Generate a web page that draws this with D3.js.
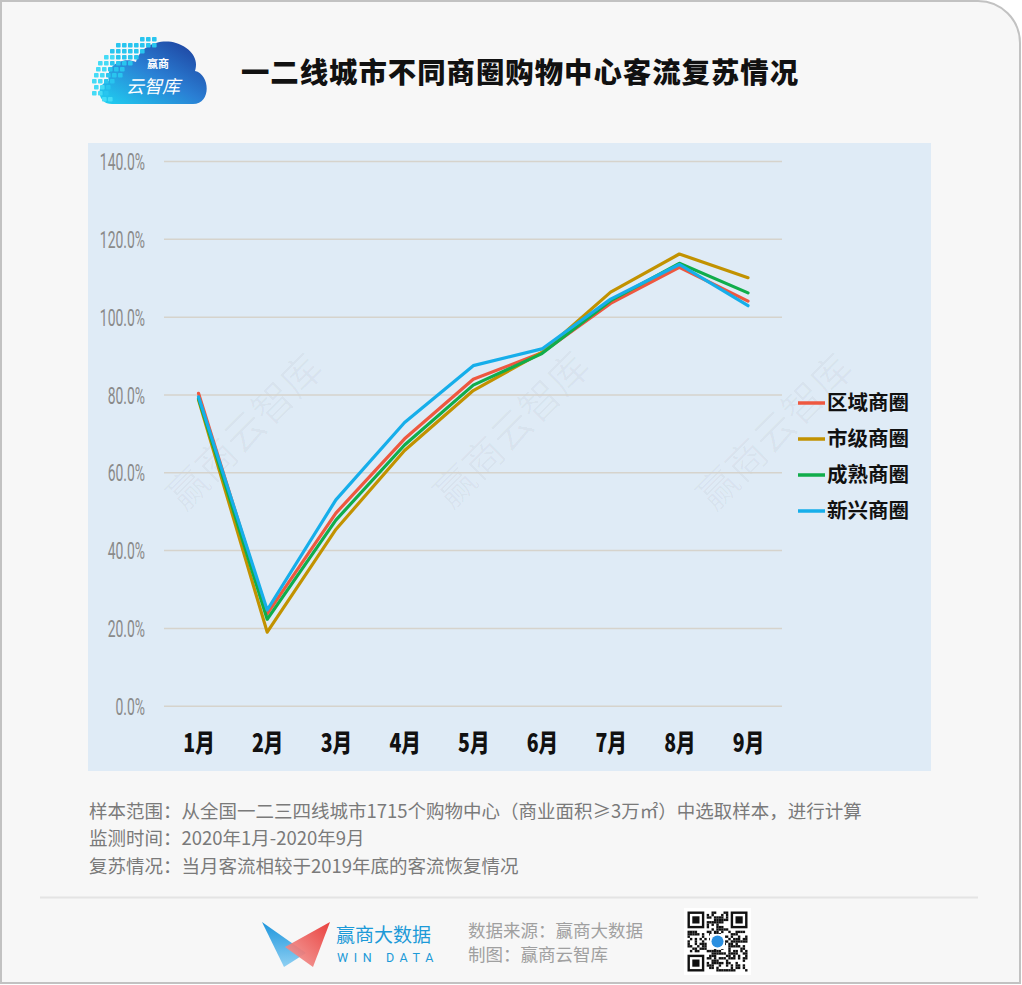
<!DOCTYPE html>
<html><head><meta charset="utf-8">
<script src="https://cdn.jsdelivr.net/npm/d3@7"></script>
<style>html,body{margin:0;padding:0;background:#fff;} svg{display:block}</style>
</head><body><svg id="c" width="1022" height="985"></svg>
<script>
// ---------- data ----------
const months = ["1月","2月","3月","4月","5月","6月","7月","8月","9月"];
const seriesNames = ["区域商圈","市级商圈","成熟商圈","新兴商圈"];
const seriesColors = ["#ee5840","#c29200","#10ad4b","#16aeea"];
const quyu     = [80.3, 23.6, 49.5, 68.6, 83.9, 90.7, 103.4, 112.7, 104.0];
const shiji    = [78.6, 18.9, 45.3, 65.6, 81.0, 90.8, 106.3, 116.1, 110.0];
const chengshu = [79.0, 22.2, 47.7, 67.0, 82.4, 90.5, 104.1, 113.7, 106.1];
const xinxing  = [79.4, 24.6, 52.9, 72.8, 87.4, 91.7, 104.5, 113.4, 102.8];
const yTicks = [0, 20, 40, 60, 80, 100, 120, 140];
const title = "一二线城市不同商圈购物中心客流复苏情况";
const notes = [
  "样本范围：从全国一二三四线城市1715个购物中心（商业面积≥3万㎡）中选取样本，进行计算",
  "监测时间：2020年1月-2020年9月",
  "复苏情况：当月客流相较于2019年底的客流恢复情况"
];
const sourceLines = ["数据来源：赢商大数据", "制图：赢商云智库"];

const series = [quyu, shiji, chengshu, xinxing];

// ---------- drawing ----------
const svg = d3.select("#c");
const CJK = "'Noto Sans CJK SC','Noto Sans',sans-serif";

function fitWidth(sel, target){
  const w = sel.node().getComputedTextLength();
  const fs = parseFloat(sel.attr("font-size"));
  if (w > 0) sel.attr("font-size", fs * target / w);
  return fs * target / w;
}

// card
svg.append("path")
  .attr("d", "M1,1 H978 A42,42 0 0 1 1020,43 V983 H1 Z")
  .attr("fill", "#f7f7f7").attr("stroke", "#c2c2c2").attr("stroke-width", 2);

// top logo (cloud)
const defs = svg.append("defs");
const g1 = defs.append("linearGradient").attr("id","cloudG").attr("x1","0").attr("y1","1").attr("x2","1").attr("y2","0");
g1.append("stop").attr("offset","0").attr("stop-color","#1fd3f2");
g1.append("stop").attr("offset","0.5").attr("stop-color","#2a7fd4");
g1.append("stop").attr("offset","1").attr("stop-color","#1c3896");
const logo = svg.append("g");
logo.append("path")
  .attr("d","M112,104 C97,104 95,84 109,81 C105,66 122,56 136,62 C140,46 160,38 176,43 C192,48 199,60 195,71 C210,74 212,104 193,104 Z")
  .attr("fill","url(#cloudG)");
const sqRows = [[37,140,3],[43,116,7],[49,110,6],[55,104,6],[61,98,6],[67,96,5],[73,94,5],[79,92,4],[85,94,3],[91,92,3],[97,102,2]];
sqRows.forEach(([yy,x0,n])=>{
  for(let i=0;i<n;i++){
    logo.append("rect").attr("x",x0+i*6).attr("y",yy).attr("width",4.6).attr("height",4.6).attr("rx",0.8)
      .attr("fill", i < 2 && yy>50 ? "#45dbf6" : "#29c5ef");
  }
});
logo.append("text").attr("x",158).attr("y",68).attr("text-anchor","middle")
  .attr("font-family",CJK).attr("font-size",11).attr("font-weight",700).attr("fill","#fff").text("赢商");
logo.append("text").attr("x",153).attr("y",93).attr("text-anchor","middle")
  .attr("font-family",CJK).attr("font-size",18).attr("font-style","italic").attr("fill","#fff").text("云智库");

// title
const tt = svg.append("text").attr("x",241).attr("y",83)
  .attr("font-family",CJK).attr("font-size",29).attr("font-weight",900).attr("letter-spacing",1)
  .attr("fill","#111").text(title);
fitWidth(tt, 558);

// plot panel
svg.append("rect").attr("x",88).attr("y",143).attr("width",843).attr("height",628).attr("fill","#dfebf6");

// watermarks
[[245,432],[512,430],[775,432]].forEach(([cx,cy])=>{
  svg.append("text").attr("transform",`translate(${cx},${cy}) rotate(-45)`)
    .attr("text-anchor","middle").attr("dy","0.35em")
    .attr("font-family",CJK).attr("font-size",40).attr("fill","#000").attr("fill-opacity",0.03)
    .text("赢商云智库");
});

const x = d3.scalePoint().domain(months).range([198.5, 748]);
const y = d3.scaleLinear().domain([0, 140]).range([705.7, 161]);

// y axis with gridlines
const yAxis = svg.append("g").attr("transform","translate(164,0)")
  .call(d3.axisLeft(y).tickValues(yTicks).tickSize(-618).tickFormat(d => d.toFixed(1) + "%"));
yAxis.select(".domain").remove();
yAxis.selectAll(".tick line").attr("stroke","#d6d3cc").attr("stroke-width",1.5);
yAxis.selectAll(".tick text")
  .attr("font-family","Roboto, 'DejaVu Sans', sans-serif").attr("font-size",24).attr("font-weight",400)
  .attr("fill","#8a8a8a").attr("text-anchor","end")
  .attr("x", -19/0.58).attr("dy","0.36em")
  .attr("transform","scale(0.58,1)");

// x axis
const xAxis = svg.append("g").attr("transform","translate(0,743)")
  .call(d3.axisBottom(x).tickSize(0).tickPadding(0));
xAxis.select(".domain").remove();
xAxis.selectAll(".tick text")
  .attr("font-family",CJK).attr("font-size",25).attr("font-weight",900)
  .attr("fill","#111").attr("y",0).attr("dy","0.36em")
  .attr("transform","scale(0.78,1)");

// lines
const line = d3.line().x((d,i)=>x(months[i])).y(d=>y(d));
series.forEach((s,k)=>{
  svg.append("path").datum(s).attr("d",line)
    .attr("fill","none").attr("stroke",seriesColors[k]).attr("stroke-width",3.2)
    .attr("stroke-linejoin","round").attr("stroke-linecap","round");
});

// legend
const legY = [403, 439, 475, 511];
seriesNames.forEach((n,k)=>{
  svg.append("line").attr("x1",798).attr("x2",825).attr("y1",legY[k]).attr("y2",legY[k])
    .attr("stroke",seriesColors[k]).attr("stroke-width",3.5);
  svg.append("text").attr("x",827).attr("y",legY[k]).attr("dy","0.36em")
    .attr("font-family",CJK).attr("font-size",20.5).attr("font-weight",700).attr("fill","#111").text(n);
});

// notes
const noteSel = notes.map((t,i)=> svg.append("text").attr("x",89).attr("y",811+i*27.5).attr("dy","0.36em")
    .attr("font-family",CJK).attr("font-size",17).attr("fill","#7a7a7a").text(t));
const nfs = fitWidth(noteSel[0], 773);
noteSel.forEach(s => s.attr("font-size", nfs));

// separator
svg.append("line").attr("x1",40).attr("x2",978).attr("y1",897.5).attr("y2",897.5)
  .attr("stroke","#e4e4e4").attr("stroke-width",2);

// bottom logo
const bl = svg.append("g");
const gb = defs.append("linearGradient").attr("id","blueG").attr("x1","0").attr("y1","0").attr("x2","0").attr("y2","1");
gb.append("stop").attr("offset","0").attr("stop-color","#1d95dc");
gb.append("stop").attr("offset","1").attr("stop-color","#8fd0f3");
const gr = defs.append("linearGradient").attr("id","redG").attr("x1","1").attr("y1","0").attr("x2","0").attr("y2","1");
gr.append("stop").attr("offset","0").attr("stop-color","#e8312e");
gr.append("stop").attr("offset","1").attr("stop-color","#f4a3a0");
bl.append("path").attr("d","M262,922 L306,953 L284,967 Z").attr("fill","url(#blueG)");
bl.append("path").attr("d","M330,922 L285,947 L313,967 Z").attr("fill","url(#redG)").attr("fill-opacity",0.92);
bl.append("text").attr("x",336).attr("y",935).attr("dy","0.36em")
  .attr("font-family",CJK).attr("font-size",19).attr("fill","#1c9ad8").text("赢商大数据");
bl.append("text").attr("x",337).attr("y",957).attr("dy","0.36em")
  .attr("font-family","Roboto, sans-serif").attr("font-size",12.5).attr("letter-spacing",5.6).attr("fill","#1c9ad8").text("WIN DATA");

sourceLines.forEach((t,i)=>{
  svg.append("text").attr("x",468).attr("y",931+i*24).attr("dy","0.36em")
    .attr("font-family",CJK).attr("font-size",17.5).attr("fill","#a0a0a0").text(t);
});

// QR-like decoration
const qr = svg.append("g").attr("transform","translate(684,908)");
qr.append("rect").attr("width",67).attr("height",67).attr("fill","#fff");
const N = 25, cs = 2.4, off = 3.5;
let h = 2166136261;
for(let r=0;r<N;r++){
  for(let c=0;c<N;c++){
    const inFinder = (r<8&&c<8)||(r<8&&c>=N-8)||(r>=N-8&&c<8);
    if(inFinder) continue;
    h = (h ^ (r*31+c*17+7)) >>> 0; h = Math.imul(h, 16777619) >>> 0;
    if((h>>>7)&1) qr.append("rect").attr("x",off+c*cs).attr("y",off+r*cs).attr("width",cs).attr("height",cs).attr("fill","#111");
  }
}
[[0,0],[0,N-7],[N-7,0]].forEach(([r,c])=>{
  qr.append("rect").attr("x",off+c*cs+cs/2).attr("y",off+r*cs+cs/2).attr("width",6*cs).attr("height",6*cs)
    .attr("fill","none").attr("stroke","#111").attr("stroke-width",cs);
  qr.append("rect").attr("x",off+(c+2)*cs).attr("y",off+(r+2)*cs).attr("width",3*cs).attr("height",3*cs).attr("fill","#111");
});
qr.append("rect").attr("x",26).attr("y",26).attr("width",15).attr("height",15).attr("fill","#fff");
qr.append("circle").attr("cx",33.5).attr("cy",33.5).attr("r",6).attr("fill","#2a8fe0");
</script>
</body></html>
